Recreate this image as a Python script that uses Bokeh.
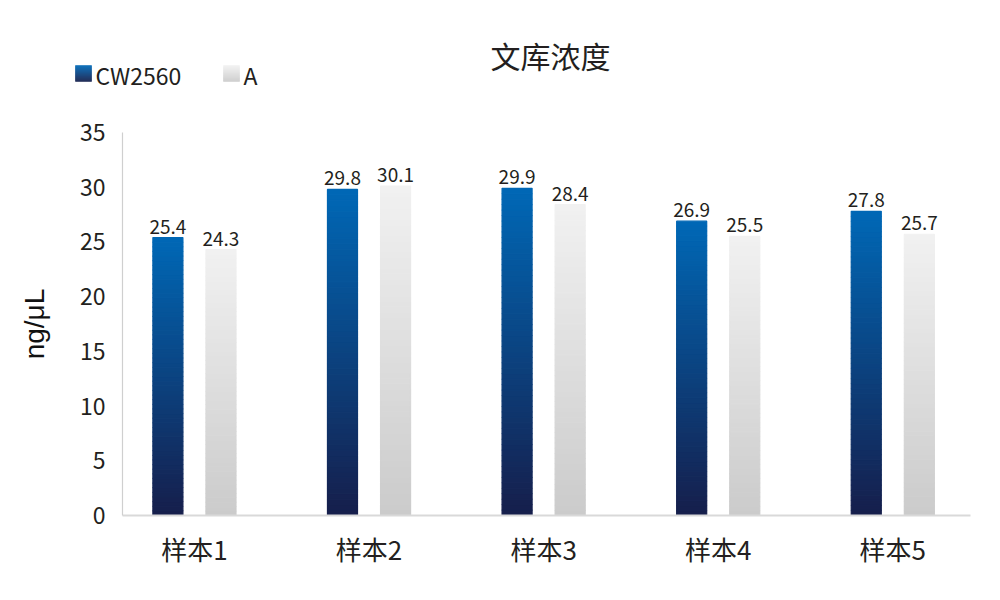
from bokeh.plotting import figure
from bokeh.models import ColumnDataSource, Range1d, LabelSet, FixedTicker
from bokeh.layouts import column
from bokeh.core.properties import value
from bokeh.embed import file_html
from bokeh.resources import INLINE

# ---- data ----
categories = ["样本1", "样本2", "样本3", "样本4", "样本5"]
series_names = ["CW2560", "A"]
cw2560 = [25.4, 29.8, 29.9, 26.9, 27.8]
a_vals = [24.3, 30.1, 28.4, 25.5, 25.7]
y_ticks = [0, 5, 10, 15, 20, 25, 30, 35]
title_text = "文库浓度"
y_label = "ng/μL"

FONT = "Noto Sans CJK SC"
TXT = "#231f20"

BLUE_BOTTOM = (22, 30, 75)
BLUE_TOP = (0, 104, 182)
GREY_BOTTOM = (203, 203, 203)
GREY_TOP = (241, 241, 241)
N = 60


def lerp(c0, c1, t):
    return "#%02x%02x%02x" % tuple(int(round(a + (b - a) * t)) for a, b in zip(c0, c1))


def gradient_source(xs, vals, width, c_bot, c_top, n=N):
    d = dict(left=[], right=[], bottom=[], top=[], color=[])
    for x, v in zip(xs, vals):
        for i in range(n):
            d["left"].append(x - width / 2)
            d["right"].append(x + width / 2)
            d["bottom"].append(v * i / n)
            d["top"].append(v * (i + 1) / n)
            d["color"].append(lerp(c_bot, c_top, (i + 0.5) / n))
    return ColumnDataSource(d)


W = 992
HEAD_H = 100
MAIN_H = 492

# ---- main chart ----
p = figure(width=W, height=MAIN_H, output_backend="svg", toolbar_location=None,
           x_range=Range1d(-0.412, 4.445), y_range=Range1d(0, 35),
           min_border_left=122, min_border_right=22, min_border_top=32, min_border_bottom=77)
p.frame_align = False
p.outline_line_color = None
p.xgrid.visible = False
p.ygrid.visible = False

idx = list(range(len(categories)))
off = 0.152
bw = 0.172
x_blue = [i - off for i in idx]
x_grey = [i + off for i in idx]

src_b = gradient_source(x_blue, cw2560, bw, BLUE_BOTTOM, BLUE_TOP)
src_g = gradient_source(x_grey, a_vals, bw, GREY_BOTTOM, GREY_TOP)
p.quad(left="left", right="right", bottom="bottom", top="top", fill_color="color",
       line_color="color", line_width=1.2, source=src_b)
p.quad(left="left", right="right", bottom="bottom", top="top", fill_color="color",
       line_color="color", line_width=1.2, source=src_g)

lab_src = ColumnDataSource(dict(
    x=x_blue + x_grey,
    y=cw2560 + a_vals,
    t=[f"{v:.1f}" for v in cw2560 + a_vals]))
p.add_layout(LabelSet(x="x", y="y", text="t", source=lab_src, text_align="center",
                      text_baseline="bottom", y_offset=4, text_font=value(FONT),
                      text_font_size="19px", text_color=TXT))

# y axis
ya = p.yaxis[0]
ya.ticker = FixedTicker(ticks=y_ticks)
ya.axis_line_color = "#cfcfcf"
ya.axis_line_width = 1.2
ya.major_tick_line_color = None
ya.minor_tick_line_color = None
ya.major_label_standoff = 11
ya.major_label_text_font = FONT
ya.major_label_text_font_size = "23px"
ya.major_label_text_color = TXT
ya.axis_label = y_label
ya.axis_label_text_font = "Liberation Sans"
ya.axis_label_text_font_style = "normal"
ya.axis_label_text_font_size = "28px"
ya.axis_label_text_color = "#111111"
ya.axis_label_standoff = 27

# x axis
xa = p.xaxis[0]
xa.ticker = FixedTicker(ticks=idx)
xa.major_label_overrides = {i: c for i, c in zip(idx, categories)}
xa.axis_line_color = "#d9d9d9"
xa.axis_line_width = 2
xa.major_tick_line_color = None
xa.minor_tick_line_color = None
xa.major_label_standoff = 8
xa.major_label_text_font = FONT
xa.major_label_text_font_size = "26px"
xa.major_label_text_color = TXT

# ---- header: title + legend (pixel-like coordinates, y downward) ----
h = figure(width=W, height=HEAD_H, output_backend="svg", toolbar_location=None,
           x_range=Range1d(0, W), y_range=Range1d(HEAD_H, 0), min_border=0)
h.frame_align = False
h.axis.visible = False
h.grid.visible = False
h.outline_line_color = None

h.text(x=[550], y=[54], text=[title_text], text_font=value(FONT), text_font_size="30px",
       text_color=TXT, text_align="center", text_baseline="middle")

sw = 16
leg_x = [75, 223]
leg_y = 73
cols = [(BLUE_BOTTOM, BLUE_TOP), (GREY_BOTTOM, GREY_TOP)]
sd = dict(left=[], right=[], bottom=[], top=[], color=[])
n = 16
for lx, (cb, ct) in zip(leg_x, cols):
    for i in range(n):
        sd["left"].append(lx)
        sd["right"].append(lx + sw)
        sd["bottom"].append(leg_y + sw / 2 - sw * i / n)
        sd["top"].append(leg_y + sw / 2 - sw * (i + 1) / n)
        sd["color"].append(lerp(cb, ct, (i + 0.5) / n))
h.quad(left="left", right="right", bottom="bottom", top="top", fill_color="color",
       line_color="color", line_width=0.5, source=ColumnDataSource(sd))
h.text(x=[lx + sw + 4 for lx in leg_x], y=[leg_y + 1] * 2, text=series_names,
       text_font=value(FONT), text_font_size="23px", text_color=TXT,
       text_align="left", text_baseline="middle")

layout = column(h, p, spacing=0)
open("out.html", "w").write(file_html(layout, INLINE))
